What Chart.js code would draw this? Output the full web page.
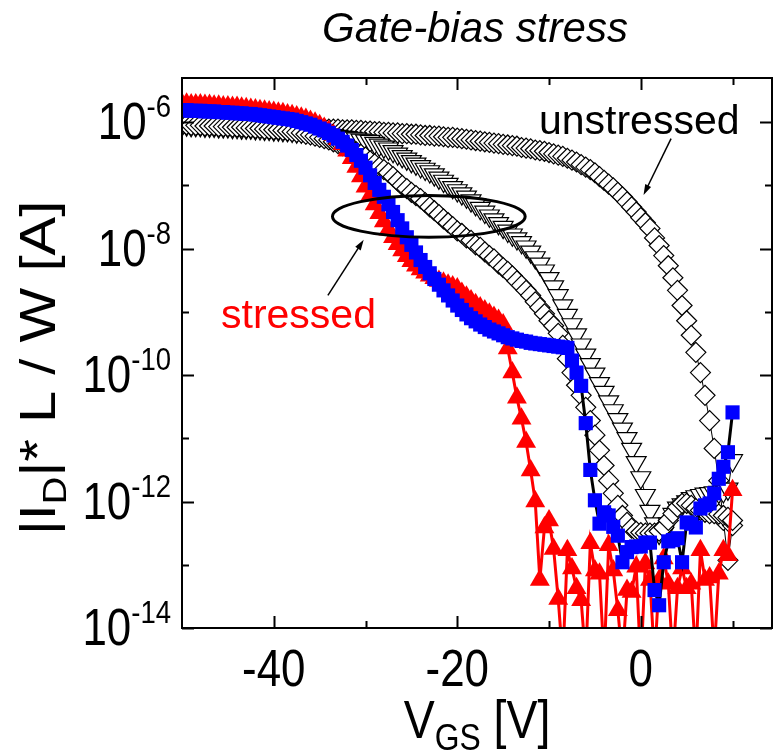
<!DOCTYPE html>
<html>
<head>
<meta charset="utf-8">
<script src="https://cdn.jsdelivr.net/npm/chart.js@4.4.1/dist/chart.umd.min.js"></script>
<style>
  html, body { margin: 0; padding: 0; background: #fff; overflow: hidden; }
  canvas { display: block; }
</style>
</head>
<body>
<canvas id="transferChart" width="773" height="752"></canvas>
<script>
// gate sweep, 0.5 V steps
const vgs = [
  -50, -49.5, -49, -48.5, -48, -47.5, -47, -46.5, -46, -45.5, -45, -44.5, -44, -43.5, -43, -42.5, -42, -41.5, -41, -40.5, -40,
  -39.5, -39, -38.5, -38, -37.5, -37, -36.5, -36, -35.5, -35, -34.5, -34, -33.5, -33, -32.5, -32, -31.5, -31, -30.5, -30,
  -29.5, -29, -28.5, -28, -27.5, -27, -26.5, -26, -25.5, -25, -24.5, -24, -23.5, -23, -22.5, -22, -21.5, -21, -20.5, -20,
  -19.5, -19, -18.5, -18, -17.5, -17, -16.5, -16, -15.5, -15, -14.5, -14, -13.5, -13, -12.5, -12, -11.5, -11, -10.5, -10,
  -9.5, -9, -8.5, -8, -7.5, -7, -6.5, -6, -5.5, -5, -4.5, -4, -3.5, -3, -2.5, -2, -1.5, -1, -0.5, 0,
  0.5, 1, 1.5, 2, 2.5, 3, 3.5, 4, 4.5, 5, 5.5, 6, 6.5, 7, 7.5, 8, 8.5, 9, 9.5, 10
];

// log10(|I_D| * L / W) for each sweep point
const unstressedLog = [
  -6.04, -6.04, -6.04, -6.05, -6.05, -6.05, -6.05, -6.05, -6.06, -6.06, -6.06, -6.06, -6.06, -6.06, -6.07, -6.07, -6.07, -6.07, -6.07, -6.08, -6.08,
  -6.08, -6.08, -6.08, -6.09, -6.09, -6.09, -6.09, -6.10, -6.10, -6.10, -6.10, -6.11, -6.11, -6.11, -6.12, -6.12, -6.12, -6.13, -6.13, -6.14,
  -6.14, -6.15, -6.15, -6.16, -6.16, -6.17, -6.17, -6.18, -6.18, -6.19, -6.19, -6.20, -6.21, -6.21, -6.22, -6.22, -6.23, -6.24, -6.24, -6.25,
  -6.26, -6.27, -6.28, -6.29, -6.30, -6.31, -6.32, -6.33, -6.34, -6.35, -6.36, -6.37, -6.38, -6.40, -6.41, -6.42, -6.44, -6.45, -6.46, -6.48,
  -6.50, -6.52, -6.54, -6.57, -6.60, -6.63, -6.67, -6.71, -6.75, -6.80, -6.86, -6.92, -6.98, -7.04, -7.11, -7.18, -7.26, -7.34, -7.42, -7.51,
  -7.59, -7.68, -7.83, -7.95, -8.11, -8.27, -8.46, -8.66, -8.90, -9.14, -9.37, -9.64, -9.96, -10.32, -10.72, -11.16, -11.67, -12.30, -12.93, -12.38
];
const diamondLog = [
  -6.04, -6.04, -6.05, -6.05, -6.05, -6.06, -6.06, -6.06, -6.07, -6.07, -6.07, -6.08, -6.08, -6.08, -6.09, -6.09, -6.10, -6.10, -6.11, -6.11, -6.12,
  -6.12, -6.13, -6.14, -6.15, -6.16, -6.17, -6.19, -6.20, -6.22, -6.24, -6.26, -6.28, -6.31, -6.34, -6.37, -6.40, -6.43, -6.47, -6.51, -6.55,
  -6.61, -6.66, -6.71, -6.75, -6.80, -6.86, -6.93, -7.00, -7.05, -7.11, -7.16, -7.21, -7.27, -7.34, -7.40, -7.46, -7.53, -7.59, -7.65, -7.72,
  -7.76, -7.83, -7.87, -7.94, -7.98, -8.05, -8.11, -8.16, -8.24, -8.30, -8.36, -8.43, -8.51, -8.58, -8.66, -8.74, -8.84, -8.93, -9.03, -9.14,
  -9.22, -9.34, -9.53, -9.74, -9.96, -10.16, -10.32, -10.51, -10.72, -10.95, -11.19, -11.43, -11.67, -11.87, -12.06, -12.22, -12.33, -12.42, -12.47, -12.49,
  -12.50, -12.50, -12.50, -12.47, -12.41, -12.30, -12.19, -12.09, -12.03, -12.03, -12.06, -12.11, -12.14, -12.17, -12.19, -12.19, -12.20, -12.22, -12.25, -12.30
];
const triangleLog = [
  -6.04, -6.04, -6.05, -6.05, -6.05, -6.06, -6.06, -6.06, -6.07, -6.07, -6.07, -6.08, -6.08, -6.09, -6.09, -6.09, -6.10, -6.10, -6.11, -6.11, -6.12,
  -6.12, -6.13, -6.13, -6.14, -6.15, -6.15, -6.16, -6.17, -6.18, -6.19, -6.19, -6.20, -6.21, -6.22, -6.23, -6.24, -6.25, -6.26, -6.28, -6.29,
  -6.30, -6.33, -6.36, -6.39, -6.42, -6.46, -6.50, -6.54, -6.58, -6.62, -6.66, -6.70, -6.74, -6.78, -6.83, -6.88, -6.93, -6.98, -7.03, -7.08,
  -7.13, -7.18, -7.24, -7.30, -7.36, -7.42, -7.48, -7.54, -7.60, -7.66, -7.72, -7.78, -7.84, -7.90, -7.97, -8.05, -8.14, -8.24, -8.35, -8.47,
  -8.60, -8.74, -8.90, -9.05, -9.20, -9.36, -9.52, -9.68, -9.83, -9.98, -10.13, -10.27, -10.42, -10.56, -10.70, -10.85, -11.00, -11.17, -11.38, -11.62,
  -11.90, -12.15, -12.35, -12.50, -12.50, -12.35, -12.20, -12.10, -12.05, -12.00, -11.95, -11.92, -11.90, -11.88, -11.87, -11.86, -11.85, -11.84, -11.80, -11.35
];
const stressedBlueLog = [
  -5.81, -5.81, -5.82, -5.82, -5.82, -5.83, -5.83, -5.83, -5.84, -5.84, -5.85, -5.85, -5.86, -5.86, -5.87, -5.87, -5.88, -5.89, -5.90, -5.91, -5.92,
  -5.93, -5.94, -5.95, -5.96, -5.98, -6.00, -6.02, -6.04, -6.07, -6.10, -6.13, -6.17, -6.21, -6.26, -6.31, -6.37, -6.44, -6.52, -6.61, -6.72,
  -6.84, -6.96, -7.07, -7.18, -7.30, -7.42, -7.55, -7.68, -7.82, -7.94, -8.06, -8.18, -8.29, -8.39, -8.48, -8.57, -8.66, -8.74, -8.82, -8.90,
  -8.97, -9.04, -9.10, -9.15, -9.20, -9.24, -9.28, -9.31, -9.34, -9.37, -9.40, -9.42, -9.44, -9.46, -9.47, -9.49, -9.50, -9.51, -9.52, -9.53,
  -9.54, -9.55, -9.56, -9.57, -9.77, -9.96, -10.17, -10.76, -11.50, -11.98, -12.35, -12.17, -12.22, -12.40, -12.54, -12.96, -12.80, -12.72, -12.71, -12.71,
  -12.65, -12.65, -13.40, -13.64, -12.96, -12.63, -12.61, -12.58, -12.96, -12.33, -12.35, -12.41, -12.11, -12.06, -12.03, -11.87, -11.64, -11.45, -11.22, -10.59
];
const stressedRedLog = [
  -5.71, -5.71, -5.72, -5.72, -5.72, -5.73, -5.73, -5.74, -5.74, -5.75, -5.75, -5.76, -5.76, -5.77, -5.78, -5.79, -5.80, -5.81, -5.82, -5.83, -5.84,
  -5.85, -5.86, -5.88, -5.89, -5.91, -5.93, -5.95, -5.98, -6.01, -6.05, -6.09, -6.14, -6.20, -6.27, -6.35, -6.45, -6.57, -6.71, -6.86, -7.02,
  -7.16, -7.30, -7.44, -7.57, -7.70, -7.82, -7.93, -8.03, -8.12, -8.20, -8.27, -8.33, -8.38, -8.43, -8.47, -8.51, -8.54, -8.57, -8.60, -8.63,
  -8.70, -8.76, -8.82, -8.88, -8.93, -8.98, -9.03, -9.08, -9.13, -9.20, -9.58, -9.96, -10.36, -10.69, -11.06, -11.51, -12.00, -13.24, -12.41, -12.30,
  -12.75, -13.54, -14.50, -12.77, -13.06, -13.37, -13.56, -14.50, -12.66, -13.09, -13.14, -14.50, -12.69, -13.09, -13.72, -14.50, -13.40, -13.43, -13.03, -14.60,
  -12.98, -13.24, -14.50, -13.24, -12.90, -13.30, -14.50, -13.37, -13.06, -13.37, -13.30, -14.50, -12.77, -13.24, -13.20, -14.40, -13.14, -12.77, -12.85, -11.82
];

// axis ticks
const xTickValues = [-40, -30, -20, -10, 0, 10];
const xTickLabels = [-40, -20, 0];
const yDecades = [-14, -13, -12, -11, -10, -9, -8, -7, -6];
const yLabelDecades = [-14, -12, -10, -8, -6];

const FONT = '"Liberation Sans", Arial, Helvetica, sans-serif';
const NARROW = 0.86; // axis lettering is set a bit condensed

function toPoints(logs) {
  return vgs.map((v, i) => ({ x: v, y: Math.pow(10, logs[i]) }));
}

function openMarkers(label, logs, style, radius, rotation) {
  return {
    label: label,
    data: toPoints(logs),
    borderColor: '#000',
    borderWidth: 1,
    pointStyle: style,
    pointRotation: rotation || 0,
    pointRadius: radius,
    pointBackgroundColor: '#fff',
    pointBorderColor: '#000',
    pointBorderWidth: 1.2,
    tension: 0,
    clip: 0
  };
}

// text made of pieces (sub/superscripts), drawn left to right
function drawParts(ctx, parts, x, y) {
  let cx = x;
  parts.forEach(p => {
    ctx.font = p.font;
    ctx.fillText(p.text, cx, y + (p.dy || 0));
    cx += ctx.measureText(p.text).width;
  });
  return cx;
}
function partsWidth(ctx, parts) {
  let w = 0;
  parts.forEach(p => { ctx.font = p.font; w += ctx.measureText(p.text).width; });
  return w;
}

function arrow(ctx, x1, y1, x2, y2) {
  const ang = Math.atan2(y2 - y1, x2 - x1);
  const head = 11;
  ctx.beginPath();
  ctx.moveTo(x1, y1);
  ctx.lineTo(x2 - Math.cos(ang) * head * 0.8, y2 - Math.sin(ang) * head * 0.8);
  ctx.stroke();
  ctx.beginPath();
  ctx.moveTo(x2, y2);
  ctx.lineTo(x2 - head * Math.cos(ang - 0.3), y2 - head * Math.sin(ang - 0.3));
  ctx.lineTo(x2 - head * Math.cos(ang + 0.3), y2 - head * Math.sin(ang + 0.3));
  ctx.closePath();
  ctx.fill();
}

const framePlugin = {
  id: 'frame',
  afterDraw(chart) {
    const { ctx, chartArea: a, scales: { x, y } } = chart;
    ctx.save();
    ctx.strokeStyle = '#000';
    ctx.fillStyle = '#000';
    ctx.lineWidth = 2;
    ctx.strokeRect(a.left, a.top, a.right - a.left, a.bottom - a.top);

    // inward ticks on all four sides
    ctx.beginPath();
    xTickValues.forEach(v => {
      const px = Math.round(x.getPixelForValue(v)) + 0.5;
      const len = xTickLabels.includes(v) ? 12 : 7;
      ctx.moveTo(px, a.bottom); ctx.lineTo(px, a.bottom - len);
      ctx.moveTo(px, a.top); ctx.lineTo(px, a.top + len);
    });
    yDecades.forEach(d => {
      const py = Math.round(y.getPixelForValue(Math.pow(10, d))) + 0.5;
      const len = yLabelDecades.includes(d) ? 12 : 7;
      ctx.moveTo(a.left, py); ctx.lineTo(a.left + len, py);
      ctx.moveTo(a.right, py); ctx.lineTo(a.right - len, py);
    });
    ctx.stroke();

    // y tick labels: 10 with a superscript exponent
    const big = '51px ' + FONT;
    const sup = '32px ' + FONT;
    ctx.textBaseline = 'alphabetic';
    ctx.textAlign = 'left';
    yLabelDecades.forEach(d => {
      const py = y.getPixelForValue(Math.pow(10, d));
      const parts = [{ text: '10', font: big }, { text: String(d), font: sup, dy: -22 }];
      const w = partsWidth(ctx, parts) * NARROW;
      ctx.save();
      ctx.translate(a.left - 11 - w, py + 17);
      ctx.scale(NARROW, 1);
      drawParts(ctx, parts, 0, 0);
      ctx.restore();
    });

    // x tick labels
    ctx.textAlign = 'center';
    ctx.font = big;
    xTickLabels.forEach(v => {
      ctx.save();
      ctx.translate(x.getPixelForValue(v), a.bottom + 58);
      ctx.scale(NARROW, 1);
      ctx.fillText(String(v), 0, 0);
      ctx.restore();
    });

    // chart title
    ctx.font = 'italic 42px ' + FONT;
    ctx.fillText('Gate-bias stress', (a.left + a.right) / 2 - 2, 42);

    // x axis title with subscript
    ctx.textAlign = 'left';
    const xt = [
      { text: 'V', font: '54px ' + FONT },
      { text: 'GS', font: '37px ' + FONT, dy: 12 },
      { text: ' [V]', font: '54px ' + FONT }
    ];
    ctx.save();
    ctx.translate((a.left + a.right) / 2, 738);
    ctx.scale(NARROW, 1);
    drawParts(ctx, xt, -partsWidth(ctx, xt) / 2, 0);
    ctx.restore();

    // y axis title, rotated; condensing acts across the glyphs here
    const yt = [
      { text: '|I', font: '58px ' + FONT },
      { text: 'D', font: '38px ' + FONT, dy: 13 },
      { text: '|* L / W [A]', font: '58px ' + FONT }
    ];
    ctx.save();
    ctx.translate(55, 368);
    ctx.rotate(-Math.PI / 2);
    ctx.scale(1, NARROW);
    drawParts(ctx, yt, -partsWidth(ctx, yt) / 2, 0);
    ctx.restore();

    // annotations, placed in data coordinates
    const px = v => x.getPixelForValue(v);
    const py = l => y.getPixelForValue(Math.pow(10, l));

    ctx.lineWidth = 3;
    ctx.beginPath();
    const ex = px(-23.1), ey = py(-7.49);
    ctx.ellipse(ex, ey, px(-12.6) - ex, ey - py(-7.16), 0, 0, Math.PI * 2);
    ctx.stroke();

    ctx.lineWidth = 1.5;
    arrow(ctx, px(-34.1), py(-8.74), px(-30.2), py(-7.86));
    arrow(ctx, px(3.3), py(-6.26), px(0.3), py(-7.15));

    ctx.font = '41px ' + FONT;
    ctx.fillStyle = '#000';
    ctx.fillText('unstressed', px(-11.1), py(-6.18));
    ctx.fillStyle = '#ff0000';
    ctx.fillText('stressed', px(-45.75), py(-9.25));
    ctx.restore();
  }
};

new Chart(document.getElementById('transferChart'), {
  type: 'line',
  data: {
    datasets: [
      {
        label: 'stressed (squares)',
        data: toPoints(stressedBlueLog),
        borderColor: '#000',
        borderWidth: 3,
        pointStyle: 'rect',
        pointRadius: 10,
        pointBackgroundColor: '#0000ff',
        pointBorderColor: '#0000ff',
        pointBorderWidth: 0,
        tension: 0,
        clip: 0
      },
      {
        label: 'stressed (triangles)',
        data: toPoints(stressedRedLog),
        borderColor: '#ff0000',
        borderWidth: 3,
        pointStyle: 'triangle',
        pointRadius: 11.5,
        pointBackgroundColor: '#ff0000',
        pointBorderColor: '#ff0000',
        pointBorderWidth: 0,
        tension: 0,
        clip: 0
      },
      openMarkers('diamonds', diamondLog, 'rectRot', 10),
      openMarkers('down triangles', triangleLog, 'triangle', 11.5, 180),
      openMarkers('unstressed', unstressedLog, 'rectRot', 10)
    ]
  },
  options: {
    responsive: false,
    animation: false,
    layout: { autoPadding: false, padding: { left: 182, right: 1, top: 78, bottom: 124 } },
    plugins: { legend: { display: false }, tooltip: { enabled: false } },
    scales: {
      x: { type: 'linear', min: -50, max: 14.3, display: false },
      y: { type: 'logarithmic', min: 1e-14, max: 5e-6, display: false }
    }
  },
  plugins: [framePlugin]
});
</script>
</body>
</html>
